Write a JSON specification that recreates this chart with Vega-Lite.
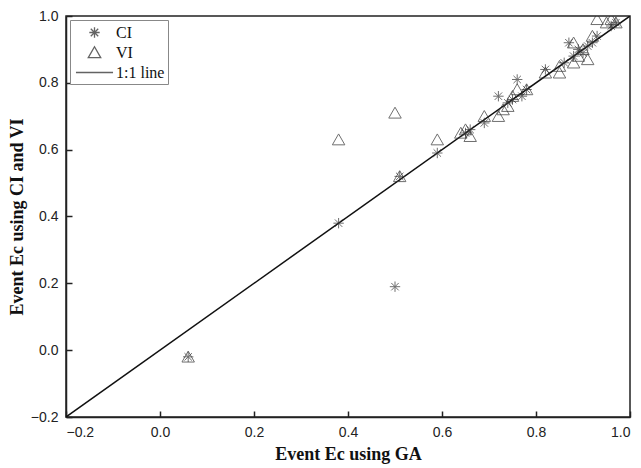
{
  "$schema": "https://vega.github.io/schema/vega-lite/v6.json",
  "width": 564,
  "height": 401,
  "autosize": "none",
  "padding": {"left": 66, "top": 16, "right": 11, "bottom": 51},
  "background": "white",
  "config": {
    "view": {"stroke": "#222", "strokeWidth": 1.5},
    "axis": {
      "grid": false,
      "domainColor": "#222",
      "domainWidth": 1.5,
      "tickColor": "#222",
      "tickWidth": 1.5,
      "tickSize": -6,
      "labelFont": "Liberation Sans",
      "labelFontSize": 14,
      "labelColor": "#222",
      "titleFont": "Liberation Serif",
      "titleFontSize": 18,
      "titleFontWeight": "bold",
      "titleColor": "#111"
    }
  },
  "datasets": {
    "pts": [
      {"ga": 0.06, "v": -0.02, "s": "CI"},
      {"ga": 0.38, "v": 0.38, "s": "CI"},
      {"ga": 0.50, "v": 0.19, "s": "CI"},
      {"ga": 0.51, "v": 0.52, "s": "CI"},
      {"ga": 0.59, "v": 0.59, "s": "CI"},
      {"ga": 0.65, "v": 0.65, "s": "CI"},
      {"ga": 0.66, "v": 0.66, "s": "CI"},
      {"ga": 0.69, "v": 0.68, "s": "CI"},
      {"ga": 0.72, "v": 0.76, "s": "CI"},
      {"ga": 0.74, "v": 0.74, "s": "CI"},
      {"ga": 0.75, "v": 0.75, "s": "CI"},
      {"ga": 0.76, "v": 0.81, "s": "CI"},
      {"ga": 0.77, "v": 0.76, "s": "CI"},
      {"ga": 0.78, "v": 0.78, "s": "CI"},
      {"ga": 0.82, "v": 0.84, "s": "CI"},
      {"ga": 0.86, "v": 0.86, "s": "CI"},
      {"ga": 0.87, "v": 0.92, "s": "CI"},
      {"ga": 0.88, "v": 0.88, "s": "CI"},
      {"ga": 0.89, "v": 0.90, "s": "CI"},
      {"ga": 0.90, "v": 0.89, "s": "CI"},
      {"ga": 0.91, "v": 0.91, "s": "CI"},
      {"ga": 0.92, "v": 0.92, "s": "CI"},
      {"ga": 0.93, "v": 0.94, "s": "CI"},
      {"ga": 0.96, "v": 0.97, "s": "CI"},
      {"ga": 0.97, "v": 0.98, "s": "CI"},
      {"ga": 0.06, "v": -0.02, "s": "VI"},
      {"ga": 0.38, "v": 0.63, "s": "VI"},
      {"ga": 0.50, "v": 0.71, "s": "VI"},
      {"ga": 0.51, "v": 0.52, "s": "VI"},
      {"ga": 0.59, "v": 0.63, "s": "VI"},
      {"ga": 0.64, "v": 0.65, "s": "VI"},
      {"ga": 0.65, "v": 0.66, "s": "VI"},
      {"ga": 0.66, "v": 0.64, "s": "VI"},
      {"ga": 0.69, "v": 0.70, "s": "VI"},
      {"ga": 0.72, "v": 0.70, "s": "VI"},
      {"ga": 0.73, "v": 0.72, "s": "VI"},
      {"ga": 0.74, "v": 0.73, "s": "VI"},
      {"ga": 0.75, "v": 0.76, "s": "VI"},
      {"ga": 0.76, "v": 0.78, "s": "VI"},
      {"ga": 0.78, "v": 0.78, "s": "VI"},
      {"ga": 0.82, "v": 0.83, "s": "VI"},
      {"ga": 0.85, "v": 0.83, "s": "VI"},
      {"ga": 0.85, "v": 0.85, "s": "VI"},
      {"ga": 0.88, "v": 0.92, "s": "VI"},
      {"ga": 0.88, "v": 0.86, "s": "VI"},
      {"ga": 0.89, "v": 0.88, "s": "VI"},
      {"ga": 0.90, "v": 0.90, "s": "VI"},
      {"ga": 0.91, "v": 0.87, "s": "VI"},
      {"ga": 0.92, "v": 0.94, "s": "VI"},
      {"ga": 0.93, "v": 0.99, "s": "VI"},
      {"ga": 0.95, "v": 0.98, "s": "VI"},
      {"ga": 0.96, "v": 0.99, "s": "VI"},
      {"ga": 0.97, "v": 0.98, "s": "VI"}
    ],
    "line": [
      {"ga": -0.2, "v": -0.2},
      {"ga": 1.0, "v": 1.0}
    ]
  },
  "layer": [
    {
      "data": {"name": "line"},
      "mark": {"type": "line", "color": "#111", "strokeWidth": 1.5, "clip": true},
      "encoding": {
        "x": {"field": "ga", "type": "quantitative"},
        "y": {"field": "v", "type": "quantitative"}
      }
    },
    {
      "data": {"name": "pts"},
      "mark": {"type": "point", "filled": false, "strokeWidth": 1, "size": 300, "clip": true},
      "encoding": {
        "x": {
          "field": "ga", "type": "quantitative",
          "scale": {"domain": [-0.2, 1.0], "nice": false, "zero": false},
          "axis": {"values": [-0.2, 0, 0.2, 0.4, 0.6, 0.8, 1.0], "format": ".1f", "title": "Event Ec using GA", "labelPadding": 14, "titlePadding": 6}
        },
        "y": {
          "field": "v", "type": "quantitative",
          "scale": {"domain": [-0.2, 1.0], "nice": false, "zero": false},
          "axis": {"values": [-0.2, 0, 0.2, 0.4, 0.6, 0.8, 1.0], "format": ".1f", "title": "Event Ec using CI and VI", "labelPadding": 14, "titlePadding": 4}
        },
        "shape": {
          "field": "s", "type": "nominal",
          "scale": {
            "domain": ["CI", "VI", "1:1 line"],
            "range": [
              "M-0.6,0L0.6,0M0,-0.6L0,0.6M-0.43,-0.43L0.43,0.43M-0.43,0.43L0.43,-0.43",
              "M0,-0.66L0.72,0.6L-0.72,0.6Z",
              "M-2.14,0L2.14,0"
            ]
          },
          "legend": {
            "title": null,
            "orient": "top-left",
            "offset": 4,
            "padding": 3,
            "strokeColor": "#888",
            "fillColor": "white",
            "labelFont": "Liberation Serif",
            "labelFontSize": 16,
            "labelColor": "#111",
            "symbolStrokeColor": "#222",
            "symbolStrokeWidth": 1.3,
            "symbolSize": 300,
            "symbolOffset": 12,
            "rowPadding": 2,
            "labelOffset": 12
          }
        },
        "color": {"value": "#333"}
      }
    }
  ]
}
